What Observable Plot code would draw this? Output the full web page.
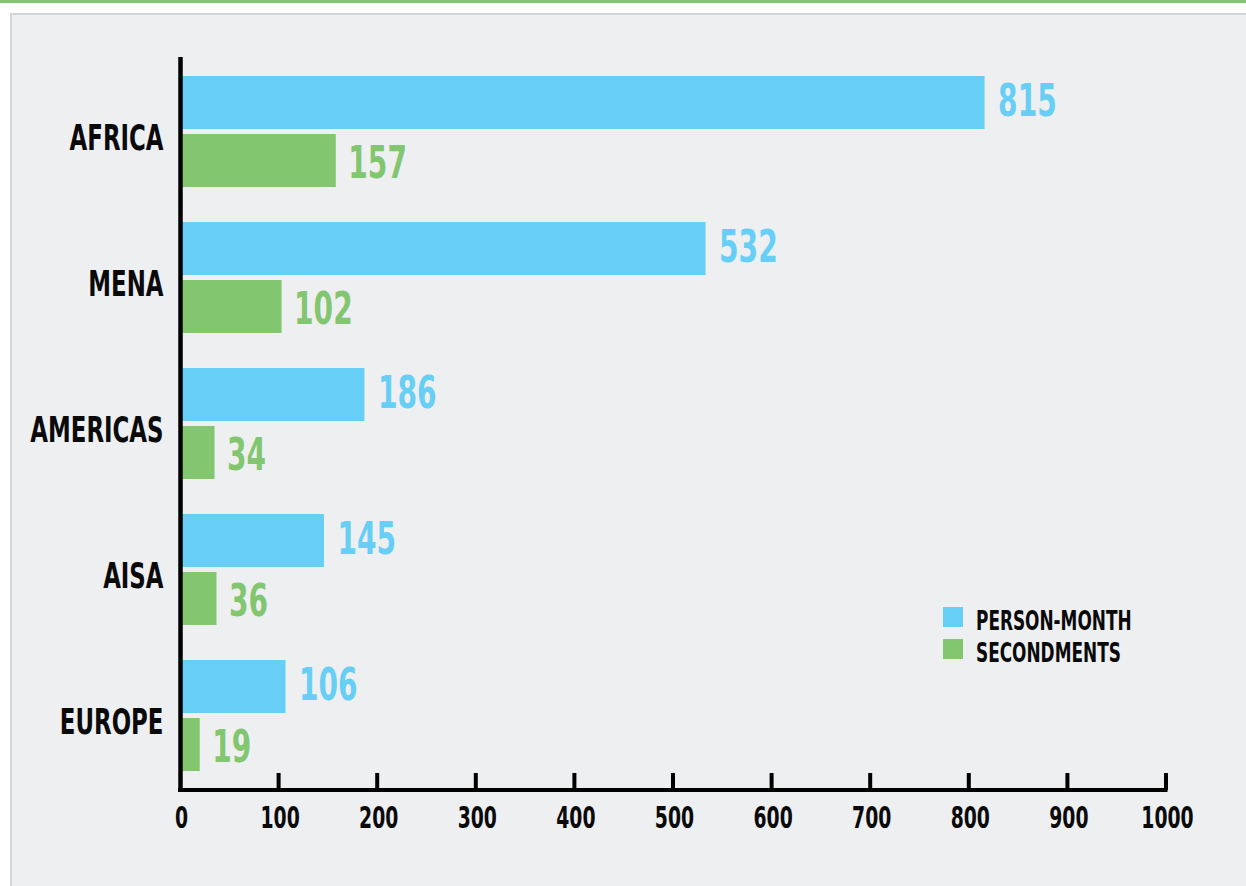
<!DOCTYPE html>
<html>
<head>
<meta charset="utf-8">
<script src="https://cdn.jsdelivr.net/npm/d3@7"></script>
<script src="https://cdn.jsdelivr.net/npm/@observablehq/plot@0.6"></script>
<style>
  html, body { margin: 0; padding: 0; background: #ffffff; }
  body { width: 1246px; height: 886px; position: relative; overflow: hidden; }
  #strip { position: absolute; left: 0; top: 0; width: 1246px; height: 3px; background: #82c670; }
  #panel { position: absolute; left: 10px; top: 13px; width: 1246px; height: 900px; background: #eeeff1;
           border-top: 2px solid #d2d6db; border-left: 2px solid #d2d6db; }
  #chart { position: absolute; left: 0; top: 0; }
  .legend { position: absolute; left: 943px; font-weight: bold; color: #0a0a0a; }
  .legend .sw { position: absolute; left: 0; width: 20px; height: 20px; }
  .legend .lb { position: absolute; left: 33px; white-space: nowrap; transform-origin: 0 50%; line-height: 1; }
</style>
</head>
<body>
<div id="strip"></div>
<div id="panel"></div>
<div id="chart"></div>
<div id="legend"></div>
<script>
const FONT = '"Liberation Sans Narrow", "DejaVu Sans Condensed", "Arial Narrow", sans-serif';

const regions = ["AFRICA", "MENA", "AMERICAS", "AISA", "EUROPE"];
const personMonth = [815, 532, 186, 145, 106];
const secondments = [157, 102, 34, 36, 19];
const xTicks = [0, 100, 200, 300, 400, 500, 600, 700, 800, 900, 1000];
const seriesNames = ["PERSON-MONTH", "SECONDMENTS"];
const seriesColors = ["#67cef5", "#82c670"];

const pm = regions.map((r, i) => ({region: r, value: personMonth[i]}));
const sec = regions.map((r, i) => ({region: r, value: secondments[i]}));

const W = 1246, H = 886, MT = 57, MB = 96, ML = 181, MR = 79;
const frameH = H - MT - MB;

const chart = Plot.plot({
  width: W, height: H,
  marginTop: MT, marginBottom: MB, marginLeft: ML, marginRight: MR,
  style: {background: "transparent", fontFamily: FONT, overflow: "visible"},
  x: {domain: [xTicks[0], xTicks[xTicks.length - 1]], axis: null},
  y: {domain: regions, paddingInner: 0.2423, paddingOuter: 0.1212, axis: null},
  marks: [
    Plot.barX(pm, {y: "region", x: "value", fill: seriesColors[0], insetBottom: 58}),
    Plot.barX(sec, {y: "region", x: "value", fill: seriesColors[1], insetTop: 58}),
    Plot.text(pm, {y: "region", x: "value", text: d => String(d.value), textAnchor: "start",
      dx: 13, dy: -30, fill: seriesColors[0], fontSize: 44, fontWeight: "bold", ariaLabel: "values"}),
    Plot.text(sec, {y: "region", x: "value", text: d => String(d.value), textAnchor: "start",
      dx: 12, dy: 32, fill: seriesColors[1], fontSize: 44, fontWeight: "bold", ariaLabel: "values"}),
    Plot.text(regions, {y: d => d, text: d => d, frameAnchor: "left", textAnchor: "end",
      dx: -18, dy: 7, fontSize: 35, fontWeight: "bold", fill: "#0a0a0a", ariaLabel: "categories"}),
    Plot.ruleX(xTicks.slice(1), {x: d => d, insetTop: frameH - 17, strokeWidth: 4, stroke: "#000", dx: -1.5}),
    Plot.barX([{x1: xTicks[0], x2: xTicks[xTicks.length - 1]}], {x1: "x1", x2: "x2",
      insetTop: frameH - 2, insetBottom: -2, insetLeft: -3, insetRight: -0.5, fill: "#000"}),
    Plot.ruleX([xTicks[0]], {x: d => d, strokeWidth: 4.5, dx: -1, insetBottom: -2, stroke: "#000"}),
    Plot.text(xTicks, {x: d => d, text: d => String(d), frameAnchor: "bottom", dy: 37,
      fontSize: 31, fontWeight: "bold", fill: "#0a0a0a", ariaLabel: "ticks"})
  ]
});
document.getElementById("chart").appendChild(chart);

// condensed look: scale glyphs horizontally to match the reference letter widths
const ctx = document.createElement("canvas").getContext("2d");
function inkWidth(str, size) {
  ctx.font = `bold ${size}px ${FONT}`;
  const m = ctx.measureText(str);
  const w = (m.actualBoundingBoxLeft || 0) + (m.actualBoundingBoxRight || 0);
  return w > 0 ? w : m.width;
}
const sCat = 132 / inkWidth("AMERICAS", 35);
const sVal = 54 / inkWidth("145", 44);
const sTick = 37 / inkWidth("100", 31);
const sLeg = 153 / inkWidth("PERSON-MONTH", 26);

function squeezeText(t, s) {
  let tr = t.getAttribute("transform");
  if (!tr) {
    const x = parseFloat(t.getAttribute("x")) || 0;
    const y = parseFloat(t.getAttribute("y")) || 0;
    t.removeAttribute("x");
    t.removeAttribute("y");
    tr = `translate(${x},${y})`;
  }
  t.setAttribute("transform", `${tr} scale(${s},1)`);
}
function squeeze(label, s) {
  let groups = Array.from(chart.querySelectorAll(`g[aria-label="${label}"]`));
  groups.forEach(g => g.querySelectorAll("text").forEach(t => squeezeText(t, s)));
}
function squeezeBySize(size, s) {
  chart.querySelectorAll("g").forEach(g => {
    if (g.getAttribute("font-size") == String(size)) g.querySelectorAll("text").forEach(t => squeezeText(t, s));
  });
}
if (chart.querySelector('g[aria-label="categories"]')) {
  squeeze("categories", sCat);
  squeeze("values", sVal);
  squeeze("ticks", sTick);
} else {
  squeezeBySize(35, sCat);
  squeezeBySize(44, sVal);
  squeezeBySize(31, sTick);
}

// legend
const legend = document.getElementById("legend");
const legTops = [607, 639];
seriesNames.forEach((name, i) => {
  const row = document.createElement("div");
  row.className = "legend";
  row.style.top = legTops[i] + "px";
  row.innerHTML = `<div class="sw" style="background:${seriesColors[i]}"></div>` +
    `<div class="lb" style="font-family:${FONT.replace(/"/g, "'")};font-size:26px;top:1px;transform:scaleX(${sLeg})">${name}</div>`;
  legend.appendChild(row);
});
</script>
</body>
</html>
